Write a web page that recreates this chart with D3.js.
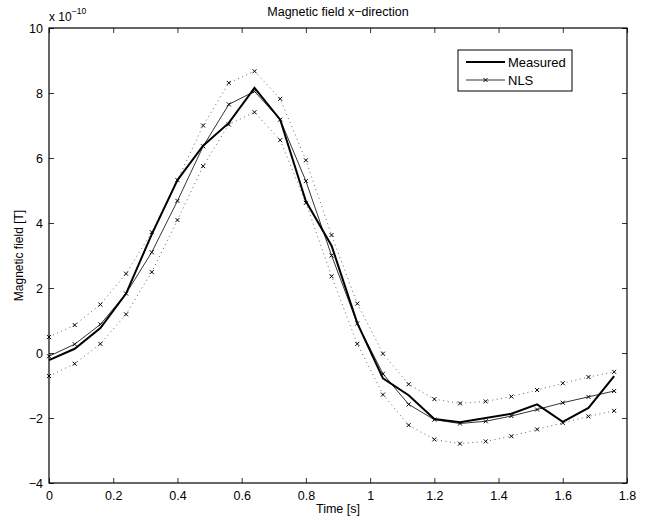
<!DOCTYPE html>
<html lang="en">
<head>
    <meta charset="UTF-8">
    <title>Magnetic field x-direction</title>
    <script src="https://d3js.org/d3.v7.min.js"></script>
    <style>
        body {
            margin: 0;
            background: #fff;
            font-family: "Liberation Sans", Arial, sans-serif;
        }
        text {
            fill: #000;
        }
    </style>
</head>
<body>
    <div id="chart"></div>

    <script>
        // time samples [s]
        const time = [0, 0.08, 0.16, 0.24, 0.32, 0.40, 0.48, 0.56, 0.64, 0.72, 0.80, 0.88,
                      0.96, 1.04, 1.12, 1.20, 1.28, 1.36, 1.44, 1.52, 1.60, 1.68, 1.76];

        // values in units of 1e-10 T
        const measured = [-0.22, 0.13, 0.77, 1.83, 3.65, 5.32, 6.38, 7.08, 8.16, 7.18, 4.67, 3.3,
                          0.92, -0.78, -1.3, -2.03, -2.13, -2.0, -1.87, -1.58, -2.12, -1.69, -0.71];
        const nls = [-0.1, 0.27, 0.88, 1.83, 3.1, 4.68, 6.36, 7.65, 8.05, 7.18, 5.29, 3.0,
                     0.91, -0.64, -1.58, -2.05, -2.17, -2.1, -1.94, -1.74, -1.53, -1.35, -1.17];
        const upper = [0.49, 0.86, 1.49, 2.44, 3.72, 5.32, 7.0, 8.31, 8.67, 7.82, 5.93, 3.63,
                       1.52, -0.02, -0.96, -1.42, -1.55, -1.49, -1.34, -1.14, -0.93, -0.74, -0.58];
        const lower = [-0.71, -0.33, 0.28, 1.19, 2.49, 4.09, 5.75, 7.03, 7.41, 6.55, 4.62, 2.36,
                       0.28, -1.28, -2.22, -2.66, -2.79, -2.72, -2.56, -2.35, -2.15, -1.95, -1.78];

        const xTicks = [0, 0.2, 0.4, 0.6, 0.8, 1, 1.2, 1.4, 1.6, 1.8];
        const yTicks = [-4, -2, 0, 2, 4, 6, 8, 10];

        const width = 655, height = 517;
        const margin = {top: 28, right: 28, bottom: 34, left: 49};
        const innerW = width - margin.left - margin.right;
        const innerH = height - margin.top - margin.bottom;

        const svg = d3.select("#chart").append("svg")
            .attr("width", width)
            .attr("height", height);

        const g = svg.append("g")
            .attr("transform", `translate(${margin.left},${margin.top})`);

        const x = d3.scaleLinear().domain([0, 1.8]).range([0, innerW]);
        const y = d3.scaleLinear().domain([-4, 10]).range([innerH, 0]);

        const fmt = d => (d < 0 ? "\u2212" + Math.abs(d) : String(d));

        // axes, ticks pointing inward on all four sides
        const axBottom = g.append("g").attr("transform", `translate(0,${innerH})`)
            .call(d3.axisBottom(x).tickValues(xTicks).tickFormat(fmt).tickSizeInner(-5).tickSizeOuter(0).tickPadding(8));
        const axTop = g.append("g")
            .call(d3.axisTop(x).tickValues(xTicks).tickFormat("").tickSizeInner(-5).tickSizeOuter(0));
        const axLeft = g.append("g")
            .call(d3.axisLeft(y).tickValues(yTicks).tickFormat(fmt).tickSizeInner(-5).tickSizeOuter(0).tickPadding(6));
        const axRight = g.append("g").attr("transform", `translate(${innerW},0)`)
            .call(d3.axisRight(y).tickValues(yTicks).tickFormat("").tickSizeInner(-5).tickSizeOuter(0));

        [axBottom, axTop, axLeft, axRight].forEach(a => {
            a.select(".domain").remove();
            a.selectAll("line").attr("stroke", "#000").attr("stroke-width", 0.8);
            a.selectAll("text").attr("font-size", 12.5).attr("font-family", "Liberation Sans, Arial, sans-serif");
        });

        g.append("rect")
            .attr("width", innerW).attr("height", innerH)
            .attr("fill", "none").attr("stroke", "#000").attr("stroke-width", 1.2);

        const pts = arr => arr.map((v, i) => [time[i], v]);
        const line = d3.line().x(d => x(d[0])).y(d => y(d[1]));

        function crosses(arr, size) {
            const s = size / 2;
            g.append("g").selectAll("path")
                .data(pts(arr))
                .enter().append("path")
                .attr("d", d => {
                    const cx = x(d[0]), cy = y(d[1]);
                    return `M${cx - s},${cy - s}L${cx + s},${cy + s}M${cx - s},${cy + s}L${cx + s},${cy - s}`;
                })
                .attr("stroke", "#000")
                .attr("stroke-width", 1);
        }

        // confidence bands (dotted)
        [upper, lower].forEach(arr => {
            g.append("path")
                .datum(pts(arr))
                .attr("d", line)
                .attr("fill", "none")
                .attr("stroke", "#555")
                .attr("stroke-width", 0.9)
                .attr("stroke-dasharray", "1,3.5");
            crosses(arr, 4);
        });

        // NLS estimate
        g.append("path")
            .datum(pts(nls))
            .attr("d", line)
            .attr("fill", "none")
            .attr("stroke", "#000")
            .attr("stroke-width", 0.8);
        crosses(nls, 4);

        // Measured
        g.append("path")
            .datum(pts(measured))
            .attr("d", line)
            .attr("fill", "none")
            .attr("stroke", "#000")
            .attr("stroke-width", 2);

        // legend
        const lg = svg.append("g").attr("transform", "translate(458,50)");
        lg.append("rect").attr("width", 114).attr("height", 41)
            .attr("fill", "#fff").attr("stroke", "#000").attr("stroke-width", 1);
        lg.append("line").attr("x1", 8).attr("x2", 47).attr("y1", 12).attr("y2", 12)
            .attr("stroke", "#000").attr("stroke-width", 2);
        lg.append("text").attr("x", 50).attr("y", 16.5).attr("font-size", 13).text("Measured");
        lg.append("line").attr("x1", 8).attr("x2", 47).attr("y1", 30).attr("y2", 30)
            .attr("stroke", "#000").attr("stroke-width", 0.8);
        lg.append("path").attr("d", "M25.5,28L29.5,32M25.5,32L29.5,28")
            .attr("stroke", "#000").attr("stroke-width", 1);
        lg.append("text").attr("x", 50).attr("y", 34.5).attr("font-size", 13).text("NLS");

        // title and labels
        svg.append("text")
            .attr("x", margin.left + innerW / 2).attr("y", 16)
            .attr("text-anchor", "middle").attr("font-size", 12.5)
            .text("Magnetic field x\u2212direction");

        svg.append("text")
            .attr("x", margin.left + innerW / 2).attr("y", 513)
            .attr("text-anchor", "middle").attr("font-size", 12.5)
            .text("Time [s]");

        svg.append("text")
            .attr("transform", `translate(23,${margin.top + innerH / 2}) rotate(-90)`)
            .attr("text-anchor", "middle").attr("font-size", 12)
            .text("Magnetic field [T]");

        const ex = svg.append("text").attr("x", 49).attr("y", 21).attr("font-size", 12);
        ex.append("tspan").text("x 10");
        ex.append("tspan").attr("dy", -7).attr("font-size", 8.5).text("\u221210");
    </script>
</body>
</html>
